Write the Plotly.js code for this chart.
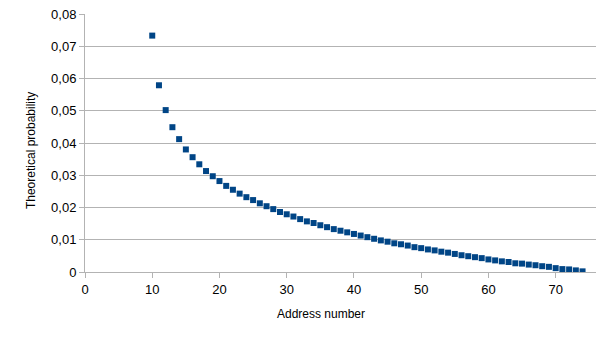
<!DOCTYPE html>
<html>
<head>
<meta charset="utf-8">
<script src="https://cdn.plot.ly/plotly-3.0.1.min.js"></script>
<style>
  html, body { margin: 0; padding: 0; background: #fff; }
  #chart { width: 605px; height: 340px; }
</style>
</head>
<body>
<div id="chart"></div>
<script>
// Address numbers 10..74
const ADDRESS = [
  10, 11, 12, 13, 14, 15, 16, 17, 18, 19,
  20, 21, 22, 23, 24, 25, 26, 27, 28, 29,
  30, 31, 32, 33, 34, 35, 36, 37, 38, 39,
  40, 41, 42, 43, 44, 45, 46, 47, 48, 49,
  50, 51, 52, 53, 54, 55, 56, 57, 58, 59,
  60, 61, 62, 63, 64, 65, 66, 67, 68, 69,
  70, 71, 72, 73, 74
];

const PROBABILITY = [
  0.0733, 0.0579, 0.0502, 0.0449, 0.0412, 0.0380, 0.0356, 0.0334, 0.0313, 0.0297,
  0.0282, 0.0267, 0.0255, 0.0243, 0.0232, 0.0223, 0.0213, 0.0204, 0.0195, 0.0186,
  0.0179, 0.0172, 0.0164, 0.0157, 0.0152, 0.0145, 0.0139, 0.0133, 0.0128, 0.0123,
  0.0118, 0.0113, 0.0108, 0.0103, 0.0098, 0.0094, 0.0089, 0.0086, 0.0082, 0.0077,
  0.0074, 0.0070, 0.0067, 0.0063, 0.0060, 0.0056, 0.0052, 0.0049, 0.0046, 0.0043,
  0.0039, 0.0036, 0.0033, 0.0031, 0.0027, 0.0026, 0.0023, 0.0021, 0.0018, 0.0016,
  0.0012, 0.0009, 0.0008, 0.0005, 0.0002
];

const X_TITLE = 'Address number';
const Y_TITLE = 'Theoretical probability';

const FONT = 'Liberation Sans, Arial, sans-serif';

const traces = [
  {
    type: 'scatter',
    mode: 'markers',
    x: ADDRESS,
    y: PROBABILITY,
    marker: { symbol: 'square', size: 6, color: '#004586' },
    hoverinfo: 'x+y'
  }
];

// axis titles as annotations, LibreOffice places them off the plot centre
const layout = {
  width: 605,
  height: 340,
  margin: { t: 14, r: 9, b: 68, l: 85 },
  paper_bgcolor: '#ffffff',
  plot_bgcolor: '#ffffff',
  separators: ',.',
  showlegend: false,
  font: { family: FONT, size: 13, color: '#000000' },
  xaxis: {
    range: [0, 76],
    dtick: 10,
    tick0: 0,
    showgrid: false,
    zeroline: false,
    showline: true,
    linecolor: '#b3b3b3',
    linewidth: 1,
    ticks: 'outside',
    ticklen: 5,
    tickcolor: '#b3b3b3',
    tickfont: { family: FONT, size: 13, color: '#000' }
  },
  yaxis: {
    range: [0, 0.08],
    dtick: 0.01,
    tick0: 0,
    showgrid: true,
    gridcolor: '#b3b3b3',
    gridwidth: 1,
    zeroline: false,
    showline: true,
    linecolor: '#b3b3b3',
    linewidth: 1,
    ticks: 'outside',
    ticklen: 5,
    tickcolor: '#b3b3b3',
    tickfont: { family: FONT, size: 13, color: '#000' }
  },
  annotations: [
    {
      text: X_TITLE,
      xref: 'paper', yref: 'paper',
      x: 0.462, y: -0.162,
      xanchor: 'center', yanchor: 'middle',
      showarrow: false,
      font: { family: FONT, size: 12, color: '#000' }
    },
    {
      text: Y_TITLE,
      xref: 'paper', yref: 'paper',
      x: -0.107, y: 0.47,
      xanchor: 'center', yanchor: 'middle',
      textangle: -90,
      showarrow: false,
      font: { family: FONT, size: 12, color: '#000' }
    }
  ]
};

const config = { displayModeBar: false, staticPlot: true };

Plotly.newPlot(document.getElementById('chart'), traces, layout, config);
</script>
</body>
</html>
